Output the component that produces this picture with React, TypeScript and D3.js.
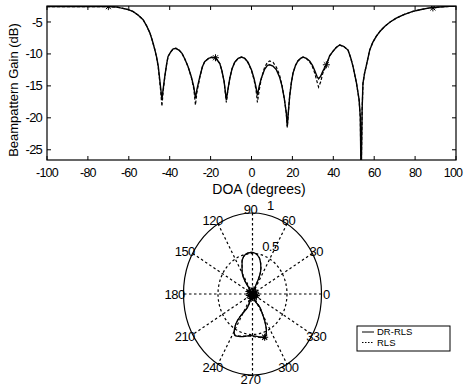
import * as d3 from 'd3'

// top panel: beampattern gain (dB) vs DOA (degrees)
const doa = [
  -100, -85, -70, -66, -64, -61, -58, -55.5, -53, -51.3, -49.7, -48.5, -47.3, -46.4, -45.6, -44.5,
  -43.8, -43.2, -42.4, -41.5, -40.8, -39.5, -38.3, -37, -35.5, -34, -32.6, -31, -29.4, -28.2, -27.4,
  -26.7, -25.3, -24, -22.9, -21, -19.6, -17.6, -15.5, -14.5, -13.4, -12.3, -11.5, -10.6, -9.5, -8.2,
  -6.5, -4.9, -3.3, -1.7, 0, 1.2, 2.2, 2.9, 3.8, 4.8, 6.4, 7.8, 8.9, 10.5, 12.2, 13.7, 14.9, 16, 17,
  17.5, 18.1, 18.7, 19.5, 20.3, 21.5, 22.7, 24, 25.2, 26.8, 28.4, 29.8, 30.9, 32, 32.8, 33.8, 34.9,
  36.6, 38.2, 39.8, 41.4, 43.1, 45, 47.2, 48.5, 49.6, 51.3, 52.6, 53.2, 53.6, 54.1, 54.5, 55.3, 56.1,
  57.8, 59.3, 61, 63, 65.1, 67.8, 70.8, 74.5, 78.9, 83, 87.1, 92, 96.8, 100,
]
const drRlsGain = [
  -2.6, -2.6, -2.6, -2.65, -2.8, -3.0, -3.35, -3.9, -4.65, -5.6, -6.7, -7.9, -9.3, -10.5, -11.9, -15.1,
  -17.1, -15.5, -13.5, -11.6, -10.4, -9.7, -9.2, -9.15, -9.4, -9.9, -10.8, -12.0, -13.6, -15.2, -16.9,
  -15.6, -13.6, -12.0, -11.2, -10.7, -10.55, -10.6, -11.5, -12.6, -14.3, -17.2, -15.5, -13.8, -12.3, -11.3,
  -10.7, -10.5, -10.7, -11.3, -12.5, -13.8, -15.2, -16.5, -15.0, -13.8, -12.4, -11.8, -11.7, -11.9, -12.5, -13.6, -15.0, -16.9, -19.2,
  -21.3, -18.8, -16.5, -14.5, -13.0, -11.8, -11.1, -10.7, -10.5, -10.7, -11.1, -11.8, -12.6, -13.5, -13.9, -13.5, -12.7,
  -11.7, -10.3, -9.6, -9.0, -8.6, -8.8, -9.4, -10.6, -11.9, -14.5, -17.1, -19.8, -30, -18.7, -14.6, -13.0, -11.9,
  -9.4, -8.2, -7.25, -6.4, -5.7, -5.0, -4.4, -3.85, -3.35, -3.05, -2.8, -2.65, -2.55, -2.5,
]
const rlsGain = [
  -2.6, -2.6, -2.6, -2.65, -2.8, -3.0, -3.35, -3.9, -4.65, -5.6, -6.7, -7.9, -9.3, -10.6, -12.1, -15.5,
  -18.2, -15.9, -13.6, -11.6, -10.4, -9.7, -9.2, -9.1, -9.35, -9.9, -10.8, -12.0, -13.7, -15.5, -18.0,
  -16.0, -13.7, -12.0, -11.2, -10.7, -10.5, -10.6, -11.5, -12.6, -14.3, -17.6, -15.6, -13.8, -12.3, -11.3,
  -10.7, -10.5, -10.7, -11.4, -12.6, -14.0, -15.6, -17.6, -15.6, -13.9, -12.1, -11.3, -11.1, -11.3, -12.1, -13.3, -14.9, -16.9, -19.2,
  -21.5, -18.8, -16.5, -14.5, -13.0, -11.8, -11.1, -10.7, -10.5, -10.7, -11.2, -12.0, -13.0, -14.3, -15.2, -14.4, -13.0,
  -11.8, -10.3, -9.6, -9.0, -8.6, -8.8, -9.4, -10.6, -11.9, -14.5, -17.2, -20.0, -30, -18.9, -14.7, -13.0, -11.9,
  -9.4, -8.2, -7.25, -6.4, -5.7, -5.0, -4.4, -3.85, -3.35, -3.05, -2.8, -2.65, -2.55, -2.5,
]
const starDoa = [-70, -17.6, 36.6, 88.7]
const starGain = [-2.6, -10.6, -11.7, -2.8]
const xTicks = [-100, -80, -60, -40, -20, 0, 20, 40, 60, 80, 100]
const yTicks = [-25, -20, -15, -10, -5]

// bottom panel: polar pattern (angle in degrees, linear radius)
const polarAngle = [
  90, 66, 65, 67, 72.5, 78, 85, 93, 102, 109, 114, 120.5, 124.5, 125, 200, 246.5, 237.7, 236.7,
  240.6, 243.6, 252.5, 267.9, 278.5, 288.3, 293.1, 297, 299.9, 302.9, 291, 30,
]
const drRlsR = [
  0.01, 0.109, 0.207, 0.299, 0.393, 0.46, 0.502, 0.513, 0.498, 0.45, 0.37, 0.29, 0.182, 0.076, 0.02,
  0.173, 0.311, 0.438, 0.54, 0.572, 0.551, 0.513, 0.531, 0.562, 0.512, 0.411, 0.303, 0.189, 0.08, 0.02,
]
const rlsR = [
  0.01, 0.112, 0.21, 0.302, 0.396, 0.463, 0.505, 0.515, 0.5, 0.452, 0.372, 0.29, 0.18, 0.076, 0.02,
  0.17, 0.308, 0.435, 0.536, 0.566, 0.545, 0.52, 0.54, 0.565, 0.515, 0.414, 0.305, 0.19, 0.08, 0.02,
]
const polarStarAngle = [0, 25, 80, 150, 200, 250, 300, 340, 288.3]
const polarStarR = [0, 0.05, 0.05, 0.06, 0.05, 0.06, 0.05, 0.06, 0.562]
const angleLabels = [0, 30, 60, 90, 120, 150, 180, 210, 240, 270, 300, 330]
const radiusLabels = [0.5, 1]
const spokeAngles = [0, 30, 60, 90, 120, 150]

const seriesNames = ['DR-RLS', 'RLS']

const W = 464
const H = 387
const font = 'Liberation Sans, Arial, Helvetica, sans-serif'

function starPath(s: number) {
  const d = s * 0.72
  return `M${-s},0L${s},0M0,${-s}L0,${s}M${-d},${-d}L${d},${d}M${-d},${d}L${d},${-d}`
}

export default function App() {
  // top axes box
  const left = 47
  const right = 456
  const top = 6
  const bottom = 160

  const x = d3.scaleLinear().domain([-100, 100]).range([left, right])
  const y = d3.scaleLinear().domain([-26.6, -2.5]).range([bottom, top])

  const idx = d3.range(doa.length)
  const gainLine = (g: number[]) =>
    d3
      .line<number>()
      .x((i) => x(doa[i]))
      .y((i) => y(g[i]))(idx) || ''

  // polar axes (elliptical, as in the scanned figure)
  const cx = 252.5
  const cy = 294
  const rx = 69
  const ry = 81
  const px = d3.scaleLinear().domain([-1, 1]).range([cx - rx, cx + rx])
  const py = d3.scaleLinear().domain([-1, 1]).range([cy + ry, cy - ry])
  const rad = (a: number) => (a * Math.PI) / 180

  const pIdx = d3.range(polarAngle.length)
  const polarLine = (r: number[]) =>
    d3
      .line<number>()
      .x((i) => px(r[i] * Math.cos(rad(polarAngle[i]))))
      .y((i) => py(r[i] * Math.sin(rad(polarAngle[i]))))
      .curve(d3.curveCatmullRom.alpha(0.5))(pIdx) || ''

  const tickLen = 4
  const dotted = '2.5,2.5'
  const legendRow = (i: number) => 332 + i * 10.5

  return (
    <svg
      width={W}
      height={H}
      style={{ position: 'absolute', left: 0, top: 0, background: '#fff' }}
      fontFamily={font}
    >
      <defs>
        <clipPath id="plot-clip">
          <rect x={left} y={top} width={right - left} height={bottom - top} />
        </clipPath>
      </defs>

      {/* top panel */}
      <g clipPath="url(#plot-clip)" fill="none" stroke="#000">
        <path d={gainLine(rlsGain)} strokeWidth={1.2} strokeDasharray="3,2" />
        <path d={gainLine(drRlsGain)} strokeWidth={1.4} />
        {starDoa.map((d, i) => (
          <path
            key={i}
            d={starPath(3.5)}
            transform={`translate(${x(d)},${y(starGain[i])})`}
            strokeWidth={1}
          />
        ))}
      </g>
      <rect x={left} y={top} width={right - left} height={bottom - top} fill="none" stroke="#000" strokeWidth={1.2} />
      {xTicks.map((t) => (
        <g key={t}>
          <line x1={x(t)} x2={x(t)} y1={bottom} y2={bottom - tickLen} stroke="#000" />
          <line x1={x(t)} x2={x(t)} y1={top} y2={top + tickLen} stroke="#000" />
          <text
            x={t === 100 ? x(t) - 3 : x(t)}
            y={177}
            textAnchor="middle"
            fontSize={12.5}
            letterSpacing={-0.8}
          >
            {t}
          </text>
        </g>
      ))}
      {yTicks.map((t) => (
        <g key={t}>
          <line x1={left} x2={left + tickLen} y1={y(t)} y2={y(t)} stroke="#000" />
          <line x1={right} x2={right - tickLen} y1={y(t)} y2={y(t)} stroke="#000" />
          <text x={42} y={y(t)} dy="0.35em" textAnchor="end" fontSize={13} letterSpacing={-0.8}>
            {t}
          </text>
        </g>
      ))}
      <text x={259} y={194} textAnchor="middle" fontSize={14}>
        DOA (degrees)
      </text>
      <text
        transform={`translate(18,${90}) rotate(-90)`}
        textAnchor="middle"
        fontSize={13}
      >
        Beampattern Gain (dB)
      </text>

      {/* polar panel */}
      <g fill="none" stroke="#000">
        {spokeAngles.map((a) => (
          <line
            key={a}
            x1={px(Math.cos(rad(a)))}
            y1={py(Math.sin(rad(a)))}
            x2={px(-Math.cos(rad(a)))}
            y2={py(-Math.sin(rad(a)))}
            strokeWidth={1.2}
            strokeDasharray={dotted}
          />
        ))}
        <ellipse cx={cx} cy={cy} rx={px(0.5) - cx} ry={cy - py(0.5)} strokeWidth={1.2} strokeDasharray={dotted} />
        <ellipse cx={cx} cy={cy} rx={rx} ry={ry} strokeWidth={1.2} />
        <path d={polarLine(rlsR)} strokeWidth={1.1} strokeDasharray="3,2" />
        <path d={polarLine(drRlsR)} strokeWidth={1.3} />
        {polarStarAngle.map((a, i) => (
          <path
            key={i}
            d={starPath(3.5)}
            transform={`translate(${px(polarStarR[i] * Math.cos(rad(a)))},${py(polarStarR[i] * Math.sin(rad(a)))})`}
            strokeWidth={1.1}
          />
        ))}
      </g>
      {angleLabels.map((a) => (
        <text
          key={a}
          x={px(1.1 * Math.cos(rad(a))) - 2}
          y={py(1.05 * Math.sin(rad(a)))}
          dy="0.35em"
          textAnchor="middle"
          fontSize={13}
          letterSpacing={-0.5}
        >
          {a}
        </text>
      ))}
      {radiusLabels.map((r) => (
        <text key={r} x={px(0.26)} y={py(r + 0.09)} dy="0.35em" textAnchor="middle" fontSize={13} letterSpacing={-0.5}>
          {r}
        </text>
      ))}

      {/* legend */}
      <g>
        <rect x={357} y={326} width={93} height={25} fill="#fff" stroke="#000" strokeWidth={1} />
        {seriesNames.map((name, i) => (
          <g key={name}>
            <line
              x1={362}
              x2={374}
              y1={legendRow(i)}
              y2={legendRow(i)}
              stroke="#000"
              strokeWidth={1}
              strokeDasharray={i === 0 ? undefined : '1.5,1.5'}
            />
            <text x={377} y={legendRow(i)} dy="0.35em" fontSize={9.5}>
              {name}
            </text>
          </g>
        ))}
      </g>
    </svg>
  )
}
